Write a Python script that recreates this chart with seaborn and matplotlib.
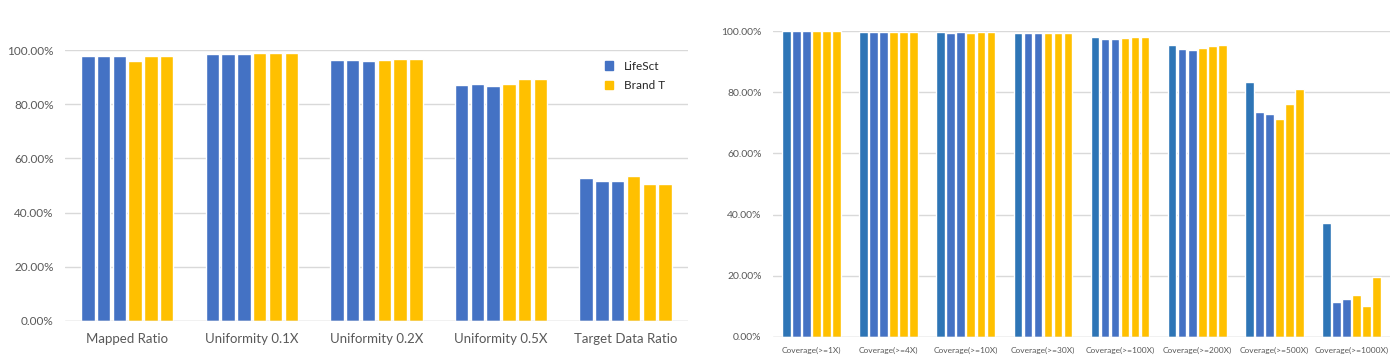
import numpy as np
import pandas as pd
import matplotlib.pyplot as plt
import seaborn as sns
from matplotlib.patches import Patch
from matplotlib.ticker import PercentFormatter, MultipleLocator

sns.set_theme(style="white")
plt.rcParams["font.family"] = ["Lato", "DejaVu Sans"]

# Daten links: Mapping / Uniformity
metrics = ["Mapped Ratio", "Uniformity 0.1X", "Uniformity 0.2X",
           "Uniformity 0.5X", "Target Data Ratio"]
lifesct_1 = [97.9, 98.5, 96.2, 87.0, 52.7]
lifesct_2 = [97.9, 98.5, 96.2, 87.3, 51.6]
lifesct_3 = [97.9, 98.5, 95.8, 86.7, 51.6]
brandt_1 = [95.9, 98.8, 96.4, 87.3, 53.6]
brandt_2 = [97.9, 98.8, 96.8, 89.2, 50.7]
brandt_3 = [97.9, 98.8, 96.8, 89.2, 50.7]

# Daten rechts: Coverage
coverage = ["Coverage(>=1X)", "Coverage(>=4X)", "Coverage(>=10X)", "Coverage(>=30X)",
            "Coverage(>=100X)", "Coverage(>=200X)", "Coverage(>=500X)", "Coverage(>=1000X)"]
cov_lifesct_1 = [99.9, 99.7, 99.6, 99.3, 98.1, 95.4, 83.4, 37.4]
cov_lifesct_2 = [99.9, 99.7, 99.4, 99.3, 97.5, 94.0, 73.4, 11.4]
cov_lifesct_3 = [99.9, 99.7, 99.6, 99.3, 97.3, 93.8, 73.0, 12.5]
cov_brandt_1 = [99.9, 99.6, 99.4, 99.2, 97.8, 94.4, 71.3, 13.7]
cov_brandt_2 = [99.9, 99.6, 99.6, 99.2, 97.9, 95.1, 76.3, 10.2]
cov_brandt_3 = [99.9, 99.6, 99.6, 99.2, 98.1, 95.5, 81.1, 19.7]

series = ["LifeSct 1", "LifeSct 2", "LifeSct 3", "Brand T 1", "Brand T 2", "Brand T 3"]
BLUE, BLUE_DARK, GOLD = "#4472C4", "#2E75B6", "#FFC000"


def long_table(cats, cols):
    rows = []
    for name, vals in zip(series, cols):
        for c, v in zip(cats, vals):
            rows.append({"cat": c, "series": name, "value": v})
    return pd.DataFrame(rows)


def style_axis(ax, tick_size, label_size, pad):
    ax.set_ylim(0, 100)
    ax.yaxis.set_major_locator(MultipleLocator(20))
    ax.yaxis.set_major_formatter(PercentFormatter(xmax=100, decimals=2))
    ax.grid(axis="y", color="#D9D9D9", linewidth=1)
    ax.set_axisbelow(True)
    for s in ax.spines.values():
        s.set_visible(False)
    ax.tick_params(axis="y", labelsize=tick_size, labelcolor="#595959", length=0, pad=8)
    ax.tick_params(axis="x", labelsize=label_size, labelcolor="#595959", length=0, pad=pad)
    ax.set_xlabel("")
    ax.set_ylabel("")


fig = plt.figure(figsize=(14, 3.58), dpi=100)
ax1 = fig.add_axes([0.0464, 0.1034, 0.445, 0.7569])
ax2 = fig.add_axes([0.552, 0.0587, 0.441, 0.8547])

left = long_table(metrics, [lifesct_1, lifesct_2, lifesct_3, brandt_1, brandt_2, brandt_3])
sns.barplot(data=left, x="cat", y="value", hue="series", hue_order=series,
            palette=[BLUE] * 3 + [GOLD] * 3, saturation=1, width=0.76, gap=0.15,
            legend=False, ax=ax1)
style_axis(ax1, 8.5, 9.5, 9)
ax1.axhline(0, color="#D9D9D9", linewidth=1)
ax1.legend(handles=[Patch(color=BLUE, label="LifeSct"), Patch(color=GOLD, label="Brand T")],
           loc="upper left", bbox_to_anchor=(0.85, 1.0), frameon=False,
           fontsize=8.5, handlelength=0.7, handleheight=0.7, handletextpad=0.9,
           labelspacing=0.7)

right = long_table(coverage, [cov_lifesct_1, cov_lifesct_2, cov_lifesct_3,
                              cov_brandt_1, cov_brandt_2, cov_brandt_3])
sns.barplot(data=right, x="cat", y="value", hue="series", hue_order=series,
            palette=[BLUE_DARK, BLUE, BLUE, GOLD, GOLD, GOLD], saturation=1,
            width=0.78, gap=0.15, legend=False, ax=ax2)
style_axis(ax2, 7.5, 6, 7)
ax2.axhline(0, color="#D9D9D9", linewidth=1)

fig.savefig("out.png", dpi=100)
plt.close(fig)
